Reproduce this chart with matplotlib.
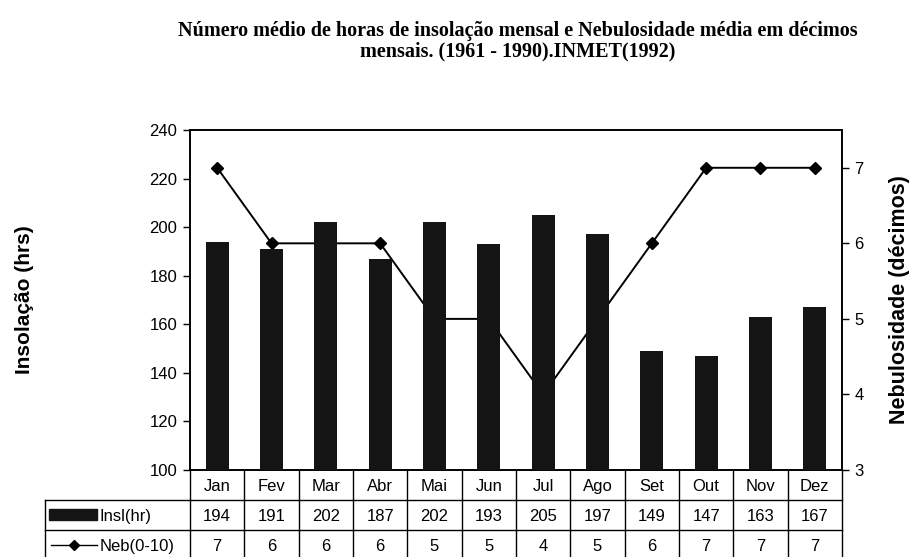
import matplotlib
matplotlib.use('Agg')
import matplotlib.pyplot as plt
from matplotlib.transforms import blended_transform_factory
from matplotlib.lines import Line2D
from matplotlib.patches import Rectangle

months = ['Jan', 'Fev', 'Mar', 'Abr', 'Mai', 'Jun', 'Jul', 'Ago', 'Set', 'Out', 'Nov', 'Dez']
insolacao = [194, 191, 202, 187, 202, 193, 205, 197, 149, 147, 163, 167]
nebulosidade = [7, 6, 6, 6, 5, 5, 4, 5, 6, 7, 7, 7]

title_1 = 'Número médio de horas de insolação mensal e Nebulosidade média em décimos'
title_2 = 'mensais. (1961 - 1990).INMET(1992)'

plt.rcParams['font.family'] = ['Liberation Sans', 'DejaVu Sans']

W, H = 911, 557
fig = plt.figure(figsize=(W / 100, H / 100), dpi=100)

# plot area in pixels: left 190, right 842, top 130, bottom 470
ax = fig.add_axes([190 / W, 1 - 470 / H, 652 / W, 340 / H])
ax2 = ax.twinx()

x = list(range(len(months)))
ax.bar(x, insolacao, width=0.42, color='#141414', zorder=3)
ax2.plot(x, nebulosidade, color='black', lw=1.4, marker='D', ms=6, zorder=2)

# bars sit on top of the line, like the original
ax.set_zorder(ax2.get_zorder() + 1)
ax.patch.set_visible(False)

ax.set_xlim(-0.5, len(months) - 0.5)
ax.set_ylim(100, 240)
ax.set_yticks(range(100, 241, 20))
ax2.set_ylim(3, 7.5)
ax2.set_yticks([3, 4, 5, 6, 7])
ax.set_xticks([])

for a in (ax, ax2):
    a.tick_params(axis='y', labelsize=12, length=5, width=1, direction='out', pad=4)
    for s in a.spines.values():
        s.set_linewidth(1.2)

ax.set_ylabel('Insolação (hrs)', fontsize=15, fontweight='bold')
ax.yaxis.set_label_coords((34 - 190) / 652, 0.5)
ax2.set_ylabel('Nebulosidade (décimos)', fontsize=15.5, fontweight='bold')
ax2.yaxis.set_label_coords((889 - 190) / 652, 0.5)

fig.text(518 / W, 1 - 31 / H, title_1, ha='center', va='center', fontsize=14.5,
         family='Liberation Serif', fontweight='bold')
fig.text(518 / W, 1 - 51 / H, title_2, ha='center', va='center', fontsize=14.5,
         family='Liberation Serif', fontweight='bold')

# data table under the plot
tr = blended_transform_factory(ax.transData, ax.transAxes)
row_h = 30 / 340
y_rows = [0, -row_h, -2 * row_h, -3 * row_h]
left_x = -0.5 - 145 / 54.3
right_x = len(months) - 0.5
lkw = dict(transform=tr, clip_on=False, color='black', lw=1)

ax.add_line(Line2D([left_x, right_x], [y_rows[1]] * 2, **lkw))
ax.add_line(Line2D([left_x, right_x], [y_rows[2]] * 2, **lkw))
ax.add_line(Line2D([left_x, left_x], [y_rows[1], y_rows[3]], **lkw))
for b in range(len(months) + 1):
    ax.add_line(Line2D([b - 0.5, b - 0.5], [0, y_rows[3]], **lkw))

cell = dict(transform=tr, ha='center', va='center_baseline', fontsize=12)
for i, m in enumerate(months):
    yc = [(y_rows[r] + y_rows[r + 1]) / 2 for r in range(3)]
    ax.text(i, yc[0], m, **cell)
    ax.text(i, yc[1], str(insolacao[i]), **cell)
    ax.text(i, yc[2], str(nebulosidade[i]), **cell)

# legend keys in the table
px = 1 / 54.3
yc1 = (y_rows[1] + y_rows[2]) / 2
yc2 = (y_rows[2] + y_rows[3]) / 2
ax.add_patch(Rectangle((left_x + 4 * px, yc1 - 5 / 340), 48 * px, 11 / 340,
                       transform=tr, clip_on=False, color='#141414'))
ax.text(left_x + 55 * px, yc1, 'Insl(hr)', transform=tr, ha='left',
        va='center_baseline', fontsize=12)
ax.add_line(Line2D([left_x + 6 * px, left_x + 52 * px], [yc2, yc2], **lkw))
ax.add_line(Line2D([left_x + 29 * px], [yc2], transform=tr, clip_on=False,
                   color='black', marker='D', ms=5, lw=0))
ax.text(left_x + 55 * px, yc2, 'Neb(0-10)', transform=tr, ha='left',
        va='center_baseline', fontsize=12)

fig.savefig('out.png', dpi=100)
